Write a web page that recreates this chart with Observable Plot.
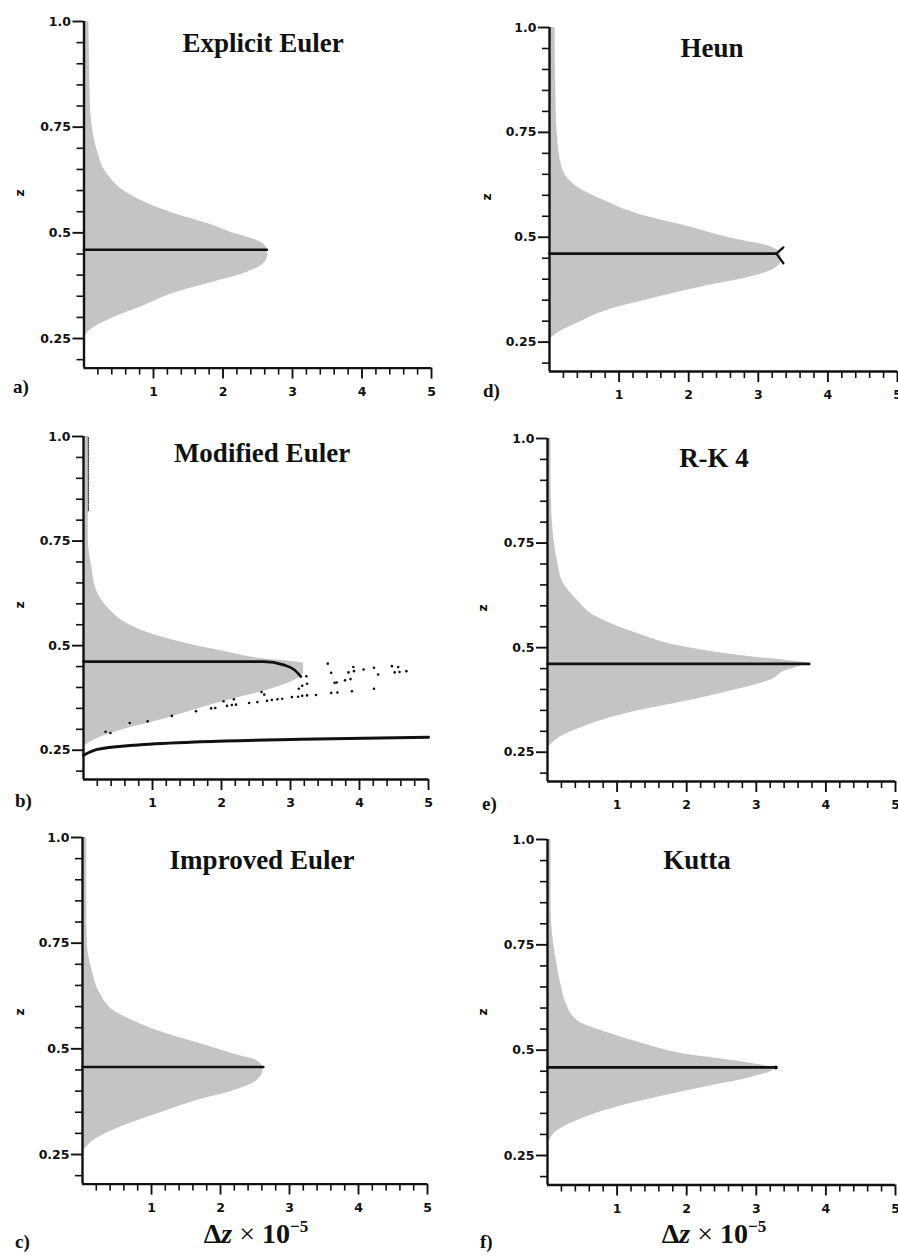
<!DOCTYPE html>
<html><head><meta charset="utf-8">
<script src="https://cdn.jsdelivr.net/npm/d3@7"></script>
<script src="https://cdn.jsdelivr.net/npm/@observablehq/plot@0.6"></script>
<style>
body{margin:0;background:#fff;}
#fig{position:relative;width:898px;height:1257px;overflow:hidden;background:#fff;}
#fig svg{position:absolute;background:transparent;}
.t{position:absolute;white-space:nowrap;color:#111;}
.title{font-family:"Liberation Serif",serif;font-weight:bold;font-size:27px;line-height:27px;transform:translateX(-50%);}
.lab{font-family:"Liberation Serif",serif;font-weight:bold;font-size:19px;line-height:19px;}
.zl{font-family:"DejaVu Sans",sans-serif;font-weight:bold;font-size:12px;line-height:12px;transform:translate(-50%,-50%) rotate(-90deg);}
.dz{font-family:"Liberation Serif",serif;font-weight:bold;font-size:28px;line-height:28px;transform:translateX(-50%);}
.dz sup{font-size:17px;vertical-align:11px;line-height:0;}
</style></head><body><div id="fig"></div><script>
// ---- axes ----
const xDomain = [0, 5];
const zDomain = [0.18, 1.0];
const xTicks = [1, 2, 3, 4, 5];
const xTickLabels = ["1", "2", "3", "4", "5"];
const zTicks = [0.25, 0.5, 0.75, 1.0];
const zTickLabels = ["0.25", "0.5", "0.75", "1.0"];
const xMinor = d3.range(1, 25).map(i => i / 5).filter(v => Math.abs(v - Math.round(v)) > 1e-6);
const zMinor = d3.range(4, 20).map(i => i / 20).filter(v => !zTicks.some(t => Math.abs(t - v) < 1e-6));

// ---- a) Explicit Euler ----
const explicitZ  = [0.253,0.27,0.30,0.324,0.357,0.38,0.404,0.428,0.445,0.463,0.482,0.499,0.522,0.546,0.577,0.60,0.64,0.695,0.75,0.81,0.90,1.0];
const explicitDx = [0.0,0.09,0.43,0.81,1.29,1.78,2.30,2.59,2.64,2.63,2.49,2.15,1.78,1.29,0.81,0.57,0.33,0.19,0.12,0.09,0.08,0.07];
const explicitLineX = [0, 2.63];
const explicitLineZ = [0.460, 0.460];

// ---- b) Modified Euler ----
const modifiedZ  = [0.262,0.274,0.302,0.322,0.346,0.369,0.389,0.401,0.425,0.435,0.457,0.469,0.485,0.501,0.521,0.553,0.584,0.632,0.688,0.752,0.85,1.0];
const modifiedDx = [0.03,0.15,0.63,1.12,1.60,2.08,2.57,2.81,3.14,3.19,3.19,2.57,2.08,1.60,1.12,0.63,0.39,0.19,0.12,0.07,0.07,0.07];
const modifiedUpperX = [0, 2.61, 2.90, 3.05, 3.15];
const modifiedUpperZ = [0.462, 0.462, 0.454, 0.443, 0.426];
const modifiedLowerX = [0, 0.2, 0.73, 1.70, 3.14, 5.0];
const modifiedLowerZ = [0.238, 0.252, 0.262, 0.270, 0.276, 0.281];
const modifiedTraceX = [0.07, 0.07];
const modifiedTraceZ = [0.823, 1.0];
const scatterX = [0.32,0.39,0.67,0.93,1.28,1.63,1.85,1.91,2.03,2.08,2.15,2.21,2.18,2.40,2.52,2.58,2.62,2.66,2.73,2.81,2.88,3.02,3.11,3.17,3.24,3.37,3.12,3.17,3.24,3.23,3.59,3.68,3.89,4.21,3.54,3.59,3.64,3.67,3.79,3.87,3.84,3.92,3.91,4.06,4.21,4.27,4.47,4.56,4.51,4.58,4.68];
const scatterZ = [0.294,0.291,0.315,0.319,0.332,0.343,0.350,0.351,0.367,0.356,0.358,0.359,0.372,0.363,0.365,0.389,0.383,0.368,0.370,0.372,0.373,0.377,0.378,0.380,0.381,0.382,0.397,0.404,0.409,0.427,0.387,0.388,0.391,0.397,0.457,0.435,0.411,0.412,0.417,0.420,0.436,0.439,0.449,0.443,0.447,0.431,0.451,0.449,0.436,0.437,0.439];

// ---- c) Improved Euler ----
const improvedZ  = [0.259,0.283,0.315,0.346,0.378,0.401,0.425,0.453,0.472,0.488,0.512,0.535,0.559,0.591,0.63,0.685,0.75,0.85,1.0];
const improvedDx = [0.02,0.16,0.55,1.08,1.66,2.19,2.53,2.62,2.53,2.19,1.71,1.23,0.84,0.45,0.26,0.14,0.07,0.06,0.06];
const improvedLineX = [0, 2.62];
const improvedLineZ = [0.457, 0.457];

// ---- d) Heun ----
const heunZ  = [0.255,0.271,0.295,0.326,0.357,0.381,0.405,0.429,0.445,0.461,0.477,0.50,0.524,0.556,0.588,0.62,0.667,0.75,0.85,1.0];
const heunDx = [0,0.11,0.40,0.83,1.55,2.17,2.89,3.27,3.33,3.32,3.18,2.55,2.03,1.26,0.78,0.40,0.18,0.11,0.09,0.08];
const heunLineX = [0, 3.26];
const heunLineZ = [0.461, 0.461];
const heunHookX = [3.36, 3.26, 3.36];
const heunHookZ = [0.476, 0.461, 0.438];

// ---- e) R-K 4 ----
const rk4Z  = [0.263,0.287,0.311,0.343,0.374,0.398,0.422,0.446,0.454,0.462,0.47,0.478,0.502,0.534,0.573,0.613,0.654,0.709,0.80,0.90,1.0];
const rk4Dx = [0.02,0.19,0.52,1.15,2.06,2.68,3.20,3.44,3.60,3.74,3.40,2.92,1.96,1.29,0.71,0.43,0.23,0.14,0.07,0.05,0.05];
const rk4LineX = [0, 3.76];
const rk4LineZ = [0.461, 0.461];

// ---- f) Kutta ----
const kuttaZ  = [0.285,0.301,0.333,0.365,0.388,0.412,0.435,0.455,0.475,0.491,0.515,0.539,0.57,0.61,0.65,0.70,0.75,0.85,1.0];
const kuttaDx = [0.03,0.09,0.43,1.0,1.58,2.25,2.92,3.25,2.68,1.96,1.38,0.91,0.43,0.27,0.20,0.14,0.09,0.05,0.05];
const kuttaLineX = [0, 3.28];
const kuttaLineZ = [0.459, 0.459];

const titles = ["Explicit Euler", "Modified Euler", "Improved Euler", "Heun", "R-K 4", "Kutta"];
const letters = ["a)", "b)", "c)", "d)", "e)", "f)"];

const pts = (xs, zs) => xs.map((x, i) => ({x, z: zs[i]}));
const lineOpts = {x: "x", y: "z", stroke: "#111", strokeWidth: 2.7};

const panels = [
  {i:0, z:explicitZ, dx:explicitDx, L:0, T:0, mL:83.5, mR:18, mT:21, mB:42.4,
   extra:[Plot.line(pts(explicitLineX, explicitLineZ), lineOpts)],
   title:[263,53], letter:[13,393], zl:[20,193]},
  {i:1, z:modifiedZ, dx:modifiedDx, L:0, T:410, mL:83, mR:21, mT:26, mB:41,
   extra:[
     Plot.line(pts(modifiedTraceX, modifiedTraceZ), {x:"x", y:"z", stroke:"#222", strokeWidth:1.2, strokeDasharray:"1,1.4"}),
     Plot.dot(pts(scatterX, scatterZ), {x:"x", y:"z", r:1.3, fill:"#111"}),
     Plot.line(pts(modifiedUpperX, modifiedUpperZ), {...lineOpts, curve:"monotone-x"}),
     Plot.line(pts(modifiedLowerX, modifiedLowerZ), {...lineOpts, strokeWidth:3, curve:"monotone-x"})],
   title:[262,463], letter:[15,807], zl:[20,605]},
  {i:2, z:improvedZ, dx:improvedDx, L:0, T:820, mL:82, mR:22, mT:17, mB:46.4,
   extra:[Plot.line(pts(improvedLineX, improvedLineZ), lineOpts)],
   title:[262,870], letter:[15,1248], zl:[20,1012]},
  {i:3, z:heunZ, dx:heunDx, L:449, T:0, mL:100, mR:1, mT:27, mB:39,
   extra:[Plot.line(pts(heunLineX, heunLineZ), lineOpts),
          Plot.line(pts(heunHookX, heunHookZ), {...lineOpts, strokeWidth:2.2})],
   title:[712,58], letter:[483,397], zl:[487,197]},
  {i:4, z:rk4Z, dx:rk4Dx, L:449, T:410, mL:98, mR:3, mT:28, mB:39,
   extra:[Plot.line(pts(rk4LineX, rk4LineZ), lineOpts)],
   title:[714,468], letter:[482,810], zl:[483,608]},
  {i:5, z:kuttaZ, dx:kuttaDx, L:449, T:820, mL:98, mR:3, mT:19, mB:45.5,
   extra:[Plot.line(pts(kuttaLineX, kuttaLineZ), lineOpts),
          Plot.dot(pts(kuttaLineX.slice(-1), kuttaLineZ.slice(-1)), {x:"x", y:"z", r:2, fill:"#111"})],
   title:[697,870], letter:[480,1248], zl:[483,1012]}
];

const fig = document.getElementById("fig");

for (const p of panels) {
  const profile = p.z.map((z, k) => ({z, dx: p.dx[k]}));
  const svg = Plot.plot({
    width: 449, height: 410,
    marginLeft: p.mL, marginRight: p.mR, marginTop: p.mT, marginBottom: p.mB,
    x: {domain: xDomain, axis: null},
    y: {domain: zDomain, axis: null},
    style: {background: "transparent", color: "#111", overflow: "visible",
            fontFamily: "'DejaVu Sans', sans-serif", fontSize: "12.5px", fontWeight: "bold"},
    marks: [
      Plot.areaX(profile, {x: "dx", y: "z", fill: "#c4c4c4", curve: "monotone-y"}),
      ...p.extra,
      Plot.ruleX([xDomain[0]], {y1: zDomain[0], y2: zDomain[1], stroke: "#111", strokeWidth: 2.4}),
      Plot.ruleY([zDomain[0]], {x1: xDomain[0], x2: xDomain[1], stroke: "#111", strokeWidth: 2.4}),
      Plot.axisX(xMinor, {anchor: "bottom", tickSize: 7, tickFormat: () => "", strokeWidth: 1.6, label: null}),
      Plot.axisX(xTicks, {anchor: "bottom", tickSize: 11, tickPadding: 8, strokeWidth: 1.9, label: null,
        tickFormat: d => xTickLabels[xTicks.indexOf(d)], fontSize: 12.5, fontWeight: "bold"}),
      Plot.axisY(zMinor, {anchor: "left", tickSize: 7, tickFormat: () => "", strokeWidth: 1.6, label: null}),
      Plot.axisY(zTicks, {anchor: "left", tickSize: 11, tickPadding: 2, strokeWidth: 1.9, label: null,
        tickFormat: d => zTickLabels[zTicks.indexOf(d)], fontSize: 12.5, fontWeight: "bold"})
    ]
  });
  svg.style.left = p.L + "px";
  svg.style.top = p.T + "px";
  fig.appendChild(svg);
}

function addText(cls, html, x, baseline, fs) {
  const d = document.createElement("div");
  d.className = "t " + cls;
  d.innerHTML = html;
  d.style.left = x + "px";
  d.style.top = (baseline - 0.84 * fs) + "px";
  fig.appendChild(d);
}
for (const p of panels) {
  addText("title", titles[p.i], p.title[0], p.title[1], 27);
  addText("lab", letters[p.i], p.letter[0], p.letter[1], 19);
  const z = document.createElement("div");
  z.className = "t zl";
  z.textContent = "z";
  z.style.left = p.zl[0] + "px";
  z.style.top = p.zl[1] + "px";
  fig.appendChild(z);
}
const xLabel = "Δ<i>z</i> <span style='font-weight:normal'>×</span> 10<sup>−5</sup>";
addText("dz", xLabel, 256, 1244, 28);
addText("dz", xLabel, 714, 1244, 28);
</script></body></html>
